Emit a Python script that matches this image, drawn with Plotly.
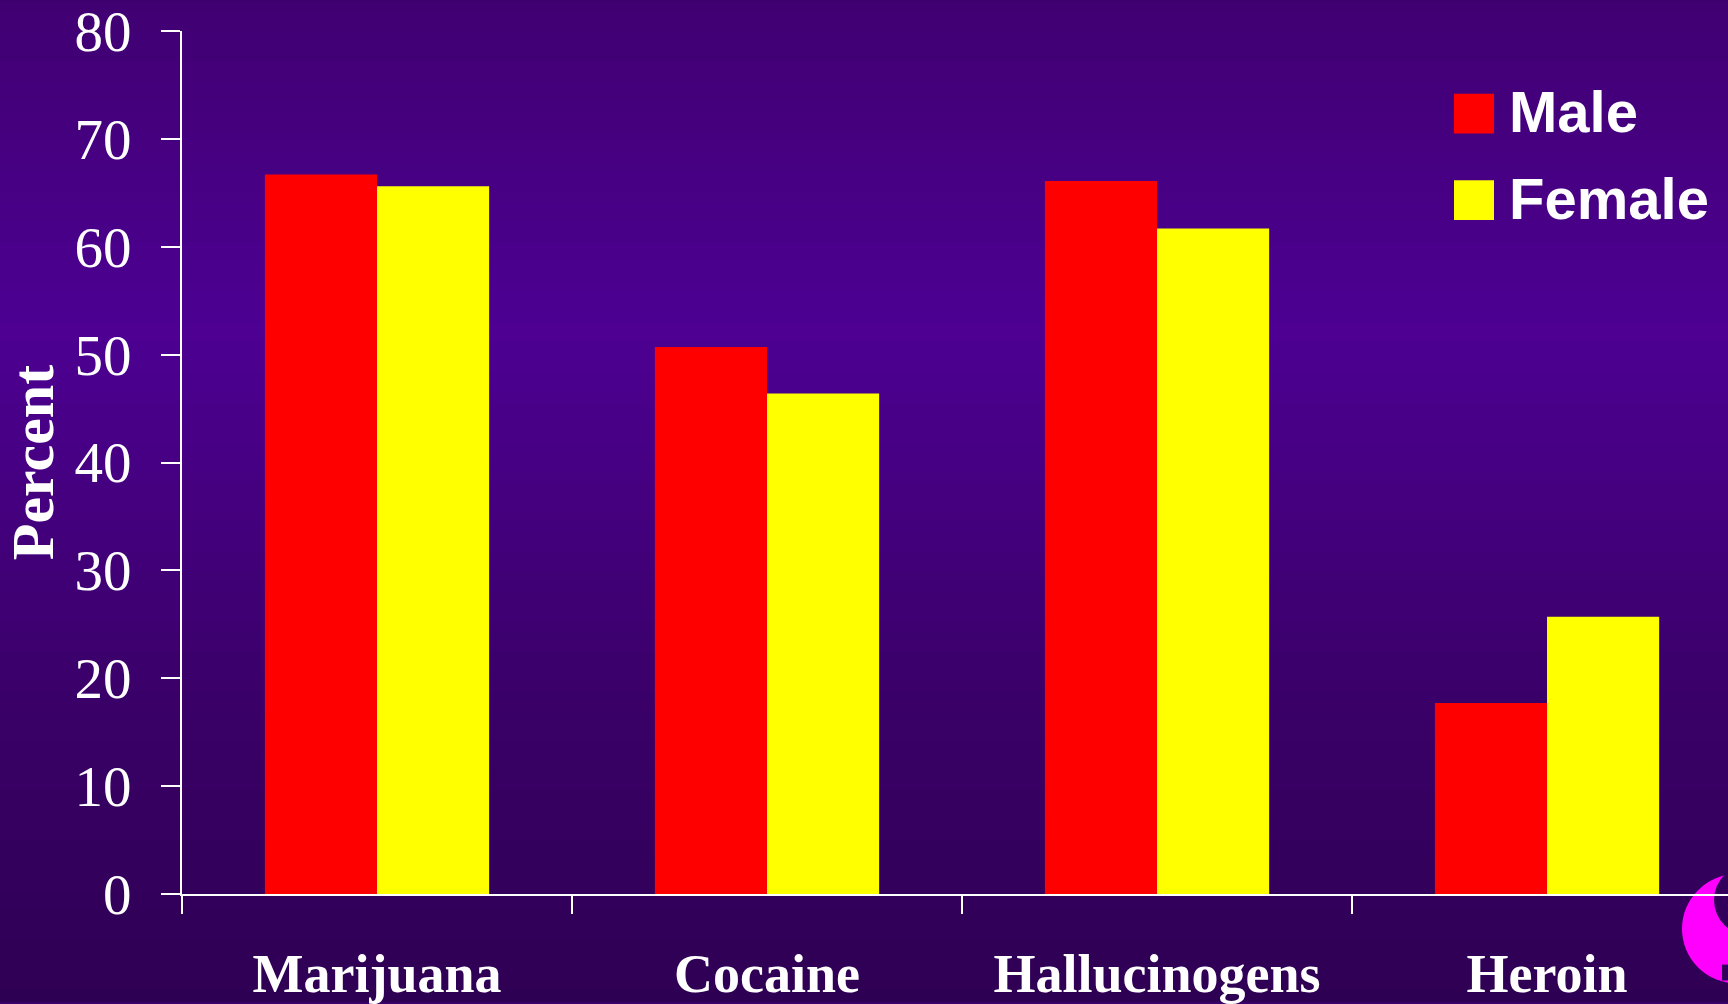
import plotly.graph_objects as go

categories = ["Marijuana", "Cocaine", "Hallucinogens", "Heroin"]
male = [66.7, 50.7, 66.1, 17.7]
female = [65.6, 46.4, 61.7, 25.7]
y_ticks = [0, 10, 20, 30, 40, 50, 60, 70, 80]
series_names = ["Male", "Female"]
series_colors = ["#ff0000", "#ffff00"]

W, H = 1728, 1004

fig = go.Figure()
for name, vals, col in zip(series_names, [male, female], series_colors):
    fig.add_trace(go.Bar(x=categories, y=vals, name=name,
                         marker=dict(color=col, line=dict(width=0)),
                         showlegend=False))

# pixel helpers for paper coords
L, R, T, B = 182, 0, 28, 108
pw, ph = W - L - R, H - T - B
def px(x):
    return (x - L) / pw
def py(y):
    return (H - B - y) / ph

# background gradient (decoration)
stops = [(0.0, (64, 0, 114)), (0.33, (77, 0, 146)), (0.7, (58, 0, 104)), (1.0, (46, 0, 83))]
def col_at(f):
    for (f0, c0), (f1, c1) in zip(stops[:-1], stops[1:]):
        if f0 <= f <= f1:
            t = (f - f0) / (f1 - f0)
            return "rgb(%d,%d,%d)" % tuple(round(a + (b - a) * t) for a, b in zip(c0, c1))
    return "rgb(%d,%d,%d)" % stops[-1][1]

shapes = []
n = 100
for i in range(n):
    ytop = H * i / n
    ybot = H * (i + 1) / n
    shapes.append(dict(type="rect", xref="paper", yref="paper", x0=px(-5), x1=px(W + 5),
                       y0=py(ybot + 1), y1=py(ytop - 1),
                       fillcolor=col_at((i + 0.5) / n), line=dict(width=0), layer="below"))

# logo (decoration)
def circ(cx, cy, r, color):
    return dict(type="circle", xref="paper", yref="paper",
                x0=px(cx - r), x1=px(cx + r), y0=py(cy + r), y1=py(cy - r),
                fillcolor=color, line=dict(width=0), layer="below")
shapes.append(circ(1737, 931, 55, "#ff00ff"))
shapes.append(circ(1750, 902, 36, "#32005a"))
shapes.append(circ(1756, 897, 27, "#ff00ff"))
shapes.append(dict(type="rect", xref="paper", yref="paper", x0=px(1722), x1=px(1730),
                   y0=py(983), y1=py(967), fillcolor="#32005a", line=dict(width=0), layer="below"))

# manual legend
annotations = []
for i, (name, col) in enumerate(zip(series_names, series_colors)):
    top = 91 + i * 87
    shapes.append(dict(type="rect", xref="paper", yref="paper",
                       x0=px(1454), x1=px(1494), y0=py(top + 40), y1=py(top),
                       fillcolor=col, line=dict(width=0)))
    annotations.append(dict(xref="paper", yref="paper", x=px(1507), y=py(top + 18),
                            xanchor="left", yanchor="middle", text="<b>%s</b>" % name,
                            showarrow=False,
                            font=dict(family="Liberation Sans", size=58, color="white")))

fig.update_layout(
    width=W, height=H,
    margin=dict(l=L, r=R, t=T, b=B, pad=0),
    paper_bgcolor="rgb(60,0,110)",
    plot_bgcolor="rgba(0,0,0,0)",
    barmode="group", bargap=0.425, bargroupgap=0,
    shapes=shapes, annotations=annotations,
    xaxis=dict(range=[-0.5, 3.464], showline=True, linecolor="white", linewidth=2,
               ticks="outside", tickson="boundaries", ticklen=18, tickwidth=2, tickcolor="white",
               tickfont=dict(family="Liberation Serif", size=54, color="white", weight="bold"),
               ticklabelstandoff=31, ticklabeloverflow="allow",
               showgrid=False, zeroline=False, fixedrange=True),
    yaxis=dict(range=[0, 80], tickvals=y_ticks, showline=True, linecolor="white", linewidth=2,
               ticks="outside", ticklen=19, tickwidth=2, tickcolor="white",
               tickfont=dict(family="Liberation Serif", size=57, color="white"),
               ticklabelstandoff=18, ticklabeloverflow="allow",
               showgrid=False, zeroline=False,
               title=dict(text="<b>Percent</b>", standoff=22,
                          font=dict(family="Liberation Serif", size=60, color="white"))),
)

fig.write_html("out.html", config={"displayModeBar": False},
               post_script="document.body.style.margin='0';document.body.style.overflow='hidden';")
